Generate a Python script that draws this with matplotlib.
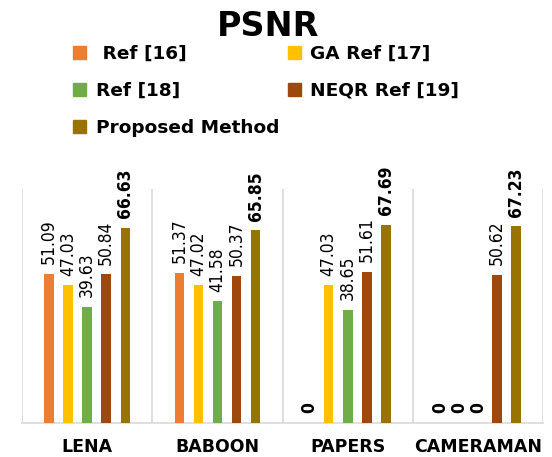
import matplotlib
matplotlib.use("Agg")
import matplotlib.pyplot as plt
import numpy as np
from matplotlib.patches import Patch

categories = ["LENA", "BABOON", "PAPERS", "CAMERAMAN"]
series_names = [" Ref [16]", "GA Ref [17]", "Ref [18]", "NEQR Ref [19]", "Proposed Method"]
ref16 = [51.09, 51.37, 0, 0]
ga_ref17 = [47.03, 47.02, 47.03, 0]
ref18 = [39.63, 41.58, 38.65, 0]
neqr_ref19 = [50.84, 50.37, 51.61, 50.62]
proposed = [66.63, 65.85, 67.69, 67.23]
label_texts = [
    ["51.09", "51.37", "0", "0"],
    ["47.03", "47.02", "47.03", "0"],
    ["39.63", "41.58", "38.65", "0"],
    ["50.84", "50.37", "51.61", "50.62"],
    ["66.63", "65.85", "67.69", "67.23"],
]

series = [ref16, ga_ref17, ref18, neqr_ref19, proposed]
colors = ["#ED7D31", "#FFC000", "#70AD47", "#9E480E", "#997300"]

fig = plt.figure(figsize=(5.52, 4.57), dpi=100)
ax = fig.add_axes([0.04, 0.0744, 0.944, 0.512])

x = np.arange(len(categories))
slot = 0.146
width = 0.073
for i, (vals, c) in enumerate(zip(series, colors)):
    pos = x + (i - 2) * slot
    ax.bar(pos, vals, width=width, color=c, zorder=3)
    for j, (p, v) in enumerate(zip(pos, vals)):
        txt = label_texts[i][j]
        if not txt:
            continue
        bold = (i == 4) or (v == 0)
        ax.annotate(txt, (p, v), xytext=(0, 7), textcoords="offset points",
                    rotation=90, ha="center", va="bottom",
                    fontsize=12.5,
                    fontweight="bold" if bold else "normal",
                    fontstretch="condensed",
                    family="DejaVu Sans",
                    color="#000000")

ax.set_xlim(-0.5, len(categories) - 0.5)
ax.set_ylim(0, 80)
ax.set_yticks([])
for s in ["top", "left", "right"]:
    ax.spines[s].set_visible(False)
ax.spines["bottom"].set_color("#d9d9d9")
ax.spines["bottom"].set_linewidth(1.2)
for b in np.arange(-0.5, len(categories), 1.0):
    ax.axvline(b, color="#d9d9d9", lw=1.2, zorder=1)
ax.set_xticks(x)
ax.set_xticklabels(categories, fontsize=12.5, fontweight="bold")
ax.tick_params(axis="x", length=0, pad=11)

fig.text(0.486, 0.942, "PSNR", ha="center", va="center", fontsize=24, fontweight="bold")

order = [0, 2, 4, 1, 3]
handles = [Patch(color=colors[k]) for k in order]
labels = [series_names[k] for k in order]
fig.legend(handles, labels, loc="upper left", bbox_to_anchor=(0.103, 0.939), ncol=2,
           frameon=False, prop={"weight": "bold", "size": 13.3},
           handlelength=0.7, handleheight=0.7, handletextpad=0.5,
           labelspacing=1.05, columnspacing=0.5)

fig.savefig("out.png", dpi=100)
